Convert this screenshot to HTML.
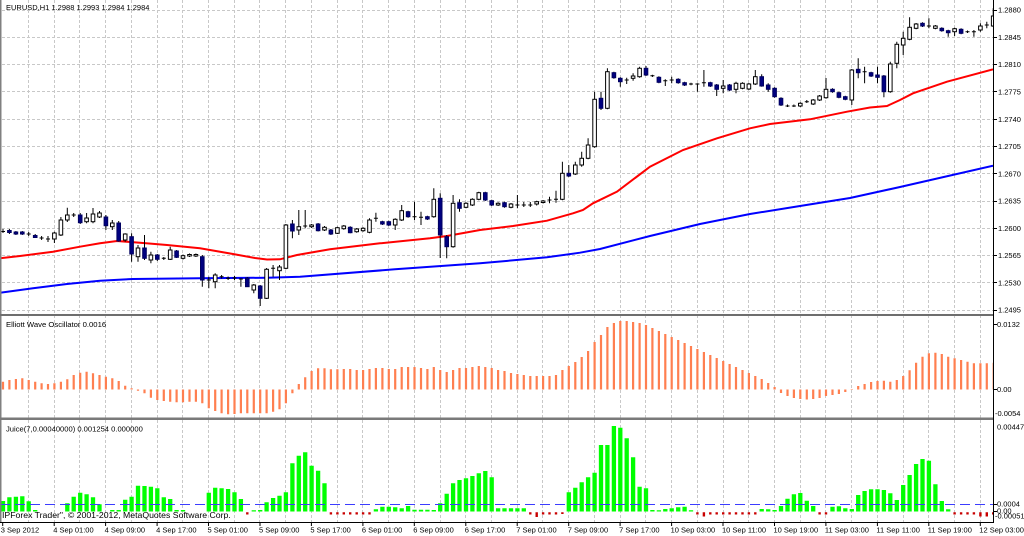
<!DOCTYPE html>
<html><head><meta charset="utf-8"><style>
html,body{margin:0;padding:0;background:#fff;}
svg{display:block;font-family:"Liberation Sans",sans-serif;}
</style></head><body>
<svg width="1024" height="536" viewBox="0 0 1024 536" xmlns="http://www.w3.org/2000/svg">
<defs>
<clipPath id="cm"><rect x="0" y="0" width="993" height="314"/></clipPath>
<clipPath id="co"><rect x="0" y="316" width="993" height="101"/></clipPath>
<clipPath id="cj"><rect x="0" y="420" width="993" height="102"/></clipPath>
</defs>
<rect x="0" y="0" width="1024" height="536" fill="#fff"/>

<!-- grid -->
<g stroke="#c8c8c8" stroke-width="1" stroke-dasharray="3,2" fill="none">
<path d="M2 10.5H993M2 37.5H993M2 64.5H993M2 91.5H993M2 119.5H993M2 146.5H993M2 173.5H993M2 201.5H993M2 228.5H993M2 255.5H993M2 282.5H993M2 310.5H993"/>
<path d="M28.5 0V522M54.5 0V522M79.5 0V522M105.5 0V522M131.5 0V522M157.5 0V522M182.5 0V522M208.5 0V522M234.5 0V522M259.5 0V522M285.5 0V522M311.5 0V522M337.5 0V522M362.5 0V522M388.5 0V522M414.5 0V522M440.5 0V522M465.5 0V522M491.5 0V522M517.5 0V522M542.5 0V522M568.5 0V522M594.5 0V522M620.5 0V522M645.5 0V522M671.5 0V522M697.5 0V522M723.5 0V522M748.5 0V522M774.5 0V522M800.5 0V522M825.5 0V522M851.5 0V522M877.5 0V522M903.5 0V522M928.5 0V522M954.5 0V522M980.5 0V522"/>
</g>

<!-- main chart -->
<g clip-path="url(#cm)">
<polyline fill="none" stroke="#0000ff" stroke-width="2" points="0,292.7 33,288.3 67,284 100,280.7 133,279 200,278.3 267,277.7 300,276.7 395,269.3 480,263.3 547,257.3 580,252.7 600,249 650,236 700,224 750,214 800,206 850,198 900,187 993,165.7"/>
<polyline fill="none" stroke="#ff0000" stroke-width="2" points="0,258.3 20,256 53,251.7 80,246.7 100,243.3 117,241 140,242.7 167,245 200,248.3 233,254 255,258 267,259.5 280,259.3 297,255 330,249.3 380,243.3 430,238.3 447,236 480,230 513,226 547,220.7 573,213.3 583,210 593,203.3 617,191.7 650,166.7 683,150 717,138.3 750,128.3 770,124 810,119.3 847,111.7 870,107.5 887,106 900,100 913,93.3 947,81.7 993,69.3"/>
<g transform="translate(-0.5,0)">
<path fill="none" stroke="#000" stroke-width="1" d="M3.5 229V233M9.9 229V234M16.4 231V235M22.8 231V235M29.2 232V236M35.7 234V238M42.1 236V240M48.5 236V242M54.9 231.7V243M61.4 217V236M67.8 207.7V222M74.2 213V217M80.7 213V224M87.1 213V223.3M93.5 208V223.3M100 211V218M106.4 215V230M112.8 220V230M119.2 221V241.7M125.7 233.3V241.7M132.1 233.3V261.7M138.5 245V261.7M145 235V260M151.4 251.7V263.3M157.8 254V261M164.3 257V260M170.7 246.7V260M177.1 250V258M183.5 254.5V259.5M190 253.5V257M196.4 253.5V257M202.8 255V286.7M209.3 276.7V288.3M215.7 273.3V288.3M222.1 275V278.5M228.6 276.5V280M235 276V280M241.4 278.3V286.7M247.8 277V287M254.3 284V293.3M260.7 285V306M267.1 268V299M273.6 265V276.7M280 265V280M286.4 224V269.3M292.9 220V238.3M299.3 210V235M305.7 210V228.3M312.1 224V228M318.6 223V231.5M325 226V231M331.4 229V235M337.9 226.7V234M344.3 225V229.7M350.7 226.3V233.3M357.2 228V232.7M363.6 227.3V231.7M370 218.3V233.3M376.4 212.7V221.7M382.9 220.7V225M389.3 220.7V226M395.7 218.3V230M402.2 205V221M408.6 210.7V217.7M415 201.7V220M421.5 211.7V225M427.9 215.7V220M434.3 188.3V217.7M440.7 193.3V258M447.2 235V258.3M453.6 195V247.7M460 199.3V211.7M466.5 202.3V208.3M472.9 198.3V206M479.3 191.7V200.3M485.8 191.7V201M492.2 199.7V206M498.6 202.3V206M505 201.7V207.7M511.5 203V208.3M517.9 195V208.3M524.3 202V207M530.8 202V207M537.2 200.7V205.5M543.6 200V203.5M550 196.7V203.3M556.5 190.7V202.7M562.9 161.7V200.3M569.3 165V177M575.8 161.7V175M582.2 151.7V166.7M588.6 138.3V159.3M595.1 91.7V147.7M601.5 91.7V110M607.9 68.3V109.3M614.4 71.7V78.7M620.8 77.3V86.7M627.2 77.7V84M633.6 73.3V80.7M640.1 66.7V77.7M646.5 66V76M652.9 74.7V77M659.4 76.3V83.3M665.8 79.3V86M672.2 76.7V83.3M678.7 78.3V83.7M685.1 81.7V86M691.5 82.7V85.3M697.9 83.3V91.7M704.4 70V86.7M710.8 81.7V87M717.2 84V96M723.7 80V93.3M730.1 84V91M736.5 81.7V93.3M743 82.3V89.3M749.4 83V90M755.8 70V85M762.2 74.3V86.7M768.7 83.3V91.7M775.1 87.3V97.7M781.5 97.3V106M788 104.5V107M794.4 104.5V107M800.8 102.3V107M807.3 100V103M813.7 99V105M820.1 95V101M826.5 78V98.7M833 88.3V92.7M839.4 91.7V98.3M845.8 95.7V100.3M852.3 69V105M858.7 58.3V78.3M865.1 66.7V83.3M871.6 71.7V77M878 66.7V83.3M884.4 75V97.3M890.8 61.7V92.7M897.3 41.7V68.3M903.7 31.7V55M910.1 17.3V40.3M916.6 23V29.3M923 22.3V27M929.4 18.3V28.3M935.9 25V29.3M942.3 27.3V31.7M948.7 29.7V36.7M955.1 27.7V36M961.6 28.3V34.3M968 30.5V33M974.4 30V36.7M980.9 23.3V31.7M987.3 21.7V28.3M993.7 8.3V27"/>
</g>
<g transform="translate(-2.5,0)">
<path fill="none" stroke="#000" stroke-width="1" d="M3.5 231.5h4M29.2 234h4M42.1 238h4M48.5 239h4M74.2 215h4M164.3 258.3h4M209.3 280h4M222.1 276.7h4M228.6 278.3h4M235 278h4M241.4 279h4M273.6 268.3h4M305.7 226h4M376.4 218.3h4M415 216.7h4M421.5 217.3h4M517.9 205h4M524.3 205h4M530.8 205h4M550 200h4M556.5 199.3h4M627.2 80h4M652.9 75.7h4M665.8 80.7h4M672.2 80h4M691.5 84h4M697.9 84h4M704.4 82.7h4M788 106h4M794.4 106h4M807.3 101.7h4M865.1 71.7h4M929.4 26h4M968 31.7h4M974.4 31.7h4M987.3 25h4"/>
</g>
<g transform="translate(-2.3,0)" fill="#fff" stroke="#000" stroke-width="1">
<rect x="54.9" y="233" width="3.6" height="6"/><rect x="61.4" y="220" width="3.6" height="15"/><rect x="67.8" y="215" width="3.6" height="5"/><rect x="87.1" y="218" width="3.6" height="3.7"/><rect x="93.5" y="214" width="3.6" height="7.7"/><rect x="100" y="213" width="3.6" height="4"/><rect x="112.8" y="223" width="3.6" height="3.7"/><rect x="125.7" y="234" width="3.6" height="6"/><rect x="138.5" y="248" width="3.6" height="8.7"/><rect x="151.4" y="255" width="3.6" height="5"/><rect x="170.7" y="250" width="3.6" height="9.3"/><rect x="183.5" y="255.7" width="3.6" height="2.6"/><rect x="190" y="254.5" width="3.6" height="1.5"/><rect x="196.4" y="254.5" width="3.6" height="1.5"/><rect x="215.7" y="275" width="3.6" height="6.7"/><rect x="254.3" y="285" width="3.6" height="5"/><rect x="267.1" y="269.3" width="3.6" height="29"/><rect x="280" y="267" width="3.6" height="3.7"/><rect x="286.4" y="225" width="3.6" height="43.3"/><rect x="299.3" y="226.7" width="3.6" height="3.3"/><rect x="312.1" y="225" width="3.6" height="1.7"/><rect x="325" y="227.3" width="3.6" height="2.7"/><rect x="337.9" y="227.7" width="3.6" height="5.6"/><rect x="344.3" y="226" width="3.6" height="2.7"/><rect x="357.2" y="229" width="3.6" height="2.7"/><rect x="363.6" y="228.3" width="3.6" height="2.4"/><rect x="370" y="220" width="3.6" height="12.3"/><rect x="395.7" y="219.3" width="3.6" height="5.7"/><rect x="402.2" y="210.7" width="3.6" height="9.3"/><rect x="434.3" y="199.3" width="3.6" height="17.4"/><rect x="453.6" y="203.3" width="3.6" height="43.4"/><rect x="466.5" y="203.3" width="3.6" height="4"/><rect x="472.9" y="199.3" width="3.6" height="5.7"/><rect x="479.3" y="192.7" width="3.6" height="6.6"/><rect x="498.6" y="203.3" width="3.6" height="1.7"/><rect x="511.5" y="204" width="3.6" height="3.3"/><rect x="537.2" y="201.7" width="3.6" height="2.3"/><rect x="543.6" y="201" width="3.6" height="1.5"/><rect x="562.9" y="173.3" width="3.6" height="26"/><rect x="575.8" y="165" width="3.6" height="9"/><rect x="582.2" y="158.3" width="3.6" height="6.7"/><rect x="588.6" y="145" width="3.6" height="13.3"/><rect x="595.1" y="99.3" width="3.6" height="47.4"/><rect x="607.9" y="71.7" width="3.6" height="36.6"/><rect x="633.6" y="76" width="3.6" height="2.3"/><rect x="640.1" y="68.3" width="3.6" height="8.4"/><rect x="723.7" y="86" width="3.6" height="2.3"/><rect x="736.5" y="83.3" width="3.6" height="6"/><rect x="743" y="83.3" width="3.6" height="5"/><rect x="749.4" y="84" width="3.6" height="5"/><rect x="755.8" y="76.7" width="3.6" height="7.3"/><rect x="800.8" y="103.3" width="3.6" height="2.7"/><rect x="813.7" y="100" width="3.6" height="4"/><rect x="820.1" y="96" width="3.6" height="4"/><rect x="826.5" y="89.3" width="3.6" height="8.4"/><rect x="852.3" y="70" width="3.6" height="30"/><rect x="890.8" y="64" width="3.6" height="27.7"/><rect x="897.3" y="44.3" width="3.6" height="19"/><rect x="903.7" y="38.3" width="3.6" height="6.7"/><rect x="910.1" y="27.3" width="3.6" height="12"/><rect x="916.6" y="24" width="3.6" height="4.3"/><rect x="935.9" y="26" width="3.6" height="2.3"/><rect x="955.1" y="28.7" width="3.6" height="3"/><rect x="980.9" y="26" width="3.6" height="4"/><rect x="993.7" y="16" width="3.6" height="10"/>
</g>
<g transform="translate(-2.3,0)" fill="#000080" stroke="#000060" stroke-width="1">
<rect x="9.9" y="230.5" width="3.6" height="2"/><rect x="16.4" y="232" width="3.6" height="2"/><rect x="22.8" y="232" width="3.6" height="2"/><rect x="35.7" y="235.5" width="3.6" height="2"/><rect x="80.7" y="215" width="3.6" height="7.7"/><rect x="106.4" y="217" width="3.6" height="8.7"/><rect x="119.2" y="223" width="3.6" height="18"/><rect x="132.1" y="236.7" width="3.6" height="17.3"/><rect x="145" y="248" width="3.6" height="10.3"/><rect x="157.8" y="255" width="3.6" height="4.3"/><rect x="177.1" y="251" width="3.6" height="6.3"/><rect x="202.8" y="256.7" width="3.6" height="23.3"/><rect x="247.8" y="278" width="3.6" height="8.7"/><rect x="260.7" y="286" width="3.6" height="12.3"/><rect x="292.9" y="224" width="3.6" height="7"/><rect x="318.6" y="224" width="3.6" height="6.7"/><rect x="331.4" y="230" width="3.6" height="4"/><rect x="350.7" y="227.3" width="3.6" height="5.4"/><rect x="382.9" y="221.7" width="3.6" height="2.3"/><rect x="389.3" y="221.7" width="3.6" height="3.3"/><rect x="408.6" y="211.7" width="3.6" height="5"/><rect x="427.9" y="216.7" width="3.6" height="2.3"/><rect x="440.7" y="198.3" width="3.6" height="36.7"/><rect x="447.2" y="236.7" width="3.6" height="10"/><rect x="460" y="202.7" width="3.6" height="5.6"/><rect x="485.8" y="192.7" width="3.6" height="7.3"/><rect x="492.2" y="200.7" width="3.6" height="4.3"/><rect x="505" y="202.7" width="3.6" height="4"/><rect x="569.3" y="173.3" width="3.6" height="2.7"/><rect x="601.5" y="98.3" width="3.6" height="10"/><rect x="614.4" y="72.7" width="3.6" height="5"/><rect x="620.8" y="78.3" width="3.6" height="3.4"/><rect x="646.5" y="68.3" width="3.6" height="6.7"/><rect x="659.4" y="77.3" width="3.6" height="5"/><rect x="678.7" y="79.3" width="3.6" height="3.4"/><rect x="685.1" y="82.7" width="3.6" height="2.3"/><rect x="710.8" y="82.7" width="3.6" height="3.3"/><rect x="717.2" y="85" width="3.6" height="4.3"/><rect x="730.1" y="85" width="3.6" height="5"/><rect x="762.2" y="76.7" width="3.6" height="9.3"/><rect x="768.7" y="85" width="3.6" height="4.3"/><rect x="775.1" y="88.3" width="3.6" height="8.4"/><rect x="781.5" y="98.3" width="3.6" height="6.7"/><rect x="833" y="89.3" width="3.6" height="2.4"/><rect x="839.4" y="92.7" width="3.6" height="4.6"/><rect x="845.8" y="96.7" width="3.6" height="2.6"/><rect x="858.7" y="69.3" width="3.6" height="3.4"/><rect x="871.6" y="72.7" width="3.6" height="3.3"/><rect x="878" y="75" width="3.6" height="2.3"/><rect x="884.4" y="76" width="3.6" height="15.7"/><rect x="923" y="23.3" width="3.6" height="2.7"/><rect x="942.3" y="28.3" width="3.6" height="2.4"/><rect x="948.7" y="30.7" width="3.6" height="2"/><rect x="961.6" y="29.3" width="3.6" height="4"/>
</g>
</g>

<!-- Elliott wave oscillator -->
<g clip-path="url(#co)" transform="translate(-0.5,0)">
<path fill="none" stroke="#ff7f50" stroke-width="2.2" d="M3.5 389.5V381.7M9.9 389.5V380M16.4 389.5V379M22.8 389.5V378.3M29.2 389.5V380M35.7 389.5V381.7M42.1 389.5V383.3M48.5 389.5V384M54.9 389.5V383.3M61.4 389.5V381.7M67.8 389.5V379.3M74.2 389.5V375M80.7 389.5V372.7M87.1 389.5V371.7M93.5 389.5V373.3M100 389.5V375M106.4 389.5V376.7M112.8 389.5V378.3M119.2 389.5V381M125.7 389.5V385.7M132.1 389.5V388.3M138.5 389.5V390.7M145 389.5V393.3M151.4 389.5V397.7M157.8 389.5V400M164.3 389.5V401M170.7 389.5V401.7M177.1 389.5V402.3M183.5 389.5V402.3M190 389.5V401.7M196.4 389.5V401.7M202.8 389.5V403.3M209.3 389.5V408.3M215.7 389.5V411M222.1 389.5V413.3M228.6 389.5V414.3M235 389.5V414M241.4 389.5V413.3M247.8 389.5V413.3M254.3 389.5V413.3M260.7 389.5V413.3M267.1 389.5V413.3M273.6 389.5V411.7M280 389.5V409.3M286.4 389.5V403.3M292.9 389.5V393.3M299.3 389.5V384M305.7 389.5V377.3M312.1 389.5V371M318.6 389.5V368.3M325 389.5V368.3M331.4 389.5V369.3M337.9 389.5V369.3M344.3 389.5V369M350.7 389.5V369M357.2 389.5V370M363.6 389.5V370M370 389.5V369M376.4 389.5V368M382.9 389.5V368M389.3 389.5V369M395.7 389.5V369M402.2 389.5V367M408.6 389.5V367M415 389.5V367M421.5 389.5V368M427.9 389.5V369M434.3 389.5V367M440.7 389.5V370M447.2 389.5V372M453.6 389.5V370M460 389.5V368M466.5 389.5V368M472.9 389.5V367M479.3 389.5V366M485.8 389.5V367M492.2 389.5V368M498.6 389.5V370M505 389.5V371M511.5 389.5V373M517.9 389.5V374M524.3 389.5V375M530.8 389.5V376M537.2 389.5V376M543.6 389.5V376M550 389.5V376M556.5 389.5V375M562.9 389.5V370M569.3 389.5V366M575.8 389.5V362M582.2 389.5V357M588.6 389.5V351M595.1 389.5V342M601.5 389.5V335M607.9 389.5V327M614.4 389.5V323M620.8 389.5V321M627.2 389.5V321M633.6 389.5V322M640.1 389.5V323M646.5 389.5V325M652.9 389.5V328M659.4 389.5V331M665.8 389.5V334M672.2 389.5V337M678.7 389.5V340M685.1 389.5V343M691.5 389.5V346M697.9 389.5V349M704.4 389.5V352M710.8 389.5V355M717.2 389.5V358M723.7 389.5V361M730.1 389.5V364M736.5 389.5V367M743 389.5V370M749.4 389.5V373M755.8 389.5V376M762.2 389.5V379M768.7 389.5V383M775.1 389.5V387M781.5 389.5V393M788 389.5V396M794.4 389.5V398M800.8 389.5V399M807.3 389.5V399.5M813.7 389.5V399M820.1 389.5V398M826.5 389.5V396M833 389.5V395M839.4 389.5V394M845.8 389.5V392M852.3 389.5V389M858.7 389.5V386M865.1 389.5V384M871.6 389.5V382M878 389.5V381M884.4 389.5V380.7M890.8 389.5V381.7M897.3 389.5V380M903.7 389.5V376M910.1 389.5V370.3M916.6 389.5V362.7M923 389.5V356.7M929.4 389.5V353.3M935.9 389.5V352.7M942.3 389.5V354M948.7 389.5V356.7M955.1 389.5V358.3M961.6 389.5V360M968 389.5V361.7M974.4 389.5V363.3M980.9 389.5V363.3M987.3 389.5V363.3M993.7 389.5V362.7"/>
</g>

<!-- Juice -->
<g clip-path="url(#cj)">
<g transform="translate(-0.5,0)">
<path fill="none" stroke="#00ff00" stroke-width="4.3" d="M3.5 511.5V501M9.9 511.5V497.3M16.4 511.5V496.7M22.8 511.5V496.3M29.2 511.5V501.3M35.7 511.5V510M67.8 511.5V503.3M74.2 511.5V496.7M80.7 511.5V492.7M87.1 511.5V494.3M93.5 511.5V497.3M100 511.5V504.3M112.8 511.5V510M119.2 511.5V510M125.7 511.5V499.7M132.1 511.5V496.7M138.5 511.5V485.7M145 511.5V486M151.4 511.5V486.7M157.8 511.5V488.3M164.3 511.5V497.3M170.7 511.5V499M177.1 511.5V510M183.5 511.5V510M209.3 511.5V492.7M215.7 511.5V487.7M222.1 511.5V488.3M228.6 511.5V489M235 511.5V492.3M241.4 511.5V499M254.3 511.5V510.3M260.7 511.5V510M267.1 511.5V502.3M273.6 511.5V498M280 511.5V495.7M286.4 511.5V492.3M292.9 511.5V463.3M299.3 511.5V455.7M305.7 511.5V452.3M312.1 511.5V465.7M318.6 511.5V470.7M325 511.5V483.3M376.4 511.5V509.3M382.9 511.5V506.7M389.3 511.5V506.7M395.7 511.5V507.3M402.2 511.5V508.3M408.6 511.5V506M415 511.5V509.7M421.5 511.5V509.7M427.9 511.5V509.7M434.3 511.5V510M440.7 511.5V503.3M447.2 511.5V493.7M453.6 511.5V483.3M460 511.5V480M466.5 511.5V478.3M472.9 511.5V476M479.3 511.5V473.3M485.8 511.5V471M492.2 511.5V477.3M498.6 511.5V508.3M505 511.5V508.3M511.5 511.5V508.3M517.9 511.5V508.3M524.3 511.5V508.3M569.3 511.5V492.3M575.8 511.5V487.7M582.2 511.5V482.3M588.6 511.5V477.3M595.1 511.5V472.7M601.5 511.5V445M607.9 511.5V445M614.4 511.5V426M620.8 511.5V427.7M627.2 511.5V438.3M633.6 511.5V457.3M640.1 511.5V486.7M646.5 511.5V488.3M652.9 511.5V510M659.4 511.5V510.3M665.8 511.5V509M672.2 511.5V508.3M678.7 511.5V507.3M685.1 511.5V506.7M691.5 511.5V510.3M762.2 511.5V509M768.7 511.5V509.3M775.1 511.5V510M781.5 511.5V506M788 511.5V498.7M794.4 511.5V494.3M800.8 511.5V493M807.3 511.5V500.7M813.7 511.5V506M833 511.5V506.7M839.4 511.5V506.3M845.8 511.5V508.3M852.3 511.5V509M858.7 511.5V495M865.1 511.5V491M871.6 511.5V489.3M878 511.5V489.3M884.4 511.5V490M890.8 511.5V493.3M897.3 511.5V500M903.7 511.5V485M910.1 511.5V475M916.6 511.5V464M923 511.5V459M929.4 511.5V460.7M935.9 511.5V484.3M942.3 511.5V501M948.7 511.5V509.3"/>
<path fill="none" stroke="#c80000" stroke-width="2.4" d="M247.8 512.3V514.5M331.4 512.3V514.5M337.9 512.3V514.5M344.3 512.3V514.5M350.7 512.3V514.5M357.2 512.3V514.5M363.6 512.3V514.5M370 512.3V514.5M530.8 512.3V514.5M537.2 512.3V517M543.6 512.3V514.5M550 512.3V514.5M556.5 512.3V514.5M562.9 512.3V514M697.9 512.3V514.5M704.4 512.3V516.5M710.8 512.3V514.5M717.2 512.3V514.5M723.7 512.3V514.5M730.1 512.3V514.5M736.5 512.3V514.5M743 512.3V514.5M749.4 512.3V514.5M755.8 512.3V514.5M820.1 512.3V514.5M826.5 512.3V514.5M955.1 512.3V514.5M961.6 512.3V514.5M968 512.3V514.5M974.4 512.3V514.5M980.9 512.3V516.5M987.3 512.3V516.5M993.7 512.3V514.5"/>
</g>
<path d="M0 504.5H993" stroke="#3c3cff" stroke-width="1" stroke-dasharray="10,5" fill="none"/>
</g>

<!-- borders / separators -->
<rect x="0" y="0" width="1.5" height="522" fill="#808080"/>
<rect x="0" y="314" width="993" height="2" fill="#6e6e6e"/>
<rect x="0" y="417.5" width="993" height="2.5" fill="#7a7a7a"/>
<path d="M993.5 0V522.5M0 522.5H994" stroke="#000" stroke-width="1" fill="none"/>
<path stroke="#000" stroke-width="1" fill="none" d="M993 10.5h4M993 37.5h4M993 64.5h4M993 91.5h4M993 119.5h4M993 146.5h4M993 173.5h4M993 201.5h4M993 228.5h4M993 255.5h4M993 282.5h4M993 310.5h4M993 324.5h4M993 389.5h4M993 504.5h4M993 511.5h4"/>
<path stroke="#000" stroke-width="1" fill="none" d="M2.7 522V526M54.2 522V526M105.6 522V526M157.1 522V526M208.5 522V526M260 522V526M311.4 522V526M362.9 522V526M414.3 522V526M465.8 522V526M517.2 522V526M568.7 522V526M620.1 522V526M671.6 522V526M723 522V526M774.5 522V526M825.9 522V526M877.4 522V526M928.8 522V526M980.3 522V526"/>

<!-- text -->
<g fill="#000" font-size="7.5">
<text x="6" y="10">EURUSD,H1  1.2988 1.2993 1.2984 1.2984</text>
<text x="6" y="327.2" font-size="7.7">Elliott Wave Oscillator 0.0016</text>
<text x="6" y="431.7" font-size="7.6">Juice(7,0.00040000) 0.001254 0.000000</text>
<text x="998" y="12.7">1.2880</text>
<text x="998" y="40">1.2845</text>
<text x="998" y="67.2">1.2810</text>
<text x="998" y="94.5">1.2775</text>
<text x="998" y="121.8">1.2740</text>
<text x="998" y="149.1">1.2705</text>
<text x="998" y="176.3">1.2670</text>
<text x="998" y="203.6">1.2635</text>
<text x="998" y="230.9">1.2600</text>
<text x="998" y="258.2">1.2565</text>
<text x="998" y="285.4">1.2530</text>
<text x="998" y="312.7">1.2495</text>
<text x="997" y="327">0.0132</text>
<text x="997" y="392">0.00</text>
<text x="995" y="416.2">-0.0054</text>
<text x="997" y="429.4">0.00447</text>
<text x="997" y="506.7">0.0004</text>
<text x="997" y="513.4">0.00</text>
<text x="995" y="518.4">-0.00051</text>
<text x="0.8" y="532.7">3 Sep 2012</text>
<text x="53.2" y="532.7">4 Sep 01:00</text>
<text x="104.6" y="532.7">4 Sep 09:00</text>
<text x="156.1" y="532.7">4 Sep 17:00</text>
<text x="207.5" y="532.7">5 Sep 01:00</text>
<text x="259" y="532.7">5 Sep 09:00</text>
<text x="310.4" y="532.7">5 Sep 17:00</text>
<text x="361.9" y="532.7">6 Sep 01:00</text>
<text x="413.3" y="532.7">6 Sep 09:00</text>
<text x="464.8" y="532.7">6 Sep 17:00</text>
<text x="516.2" y="532.7">7 Sep 01:00</text>
<text x="567.7" y="532.7">7 Sep 09:00</text>
<text x="619.1" y="532.7">7 Sep 17:00</text>
<text x="670.6" y="532.7">10 Sep 03:00</text>
<text x="722" y="532.7">10 Sep 11:00</text>
<text x="773.5" y="532.7">10 Sep 19:00</text>
<text x="824.9" y="532.7">11 Sep 03:00</text>
<text x="876.4" y="532.7">11 Sep 11:00</text>
<text x="927.8" y="532.7">11 Sep 19:00</text>
<text x="979.3" y="532.7">12 Sep 03:00</text>
<text x="2" y="518.2" font-size="8.7">IPForex Trader", © 2001-2012, MetaQuotes Software Corp.</text>
</g>
</svg>
</body></html>
